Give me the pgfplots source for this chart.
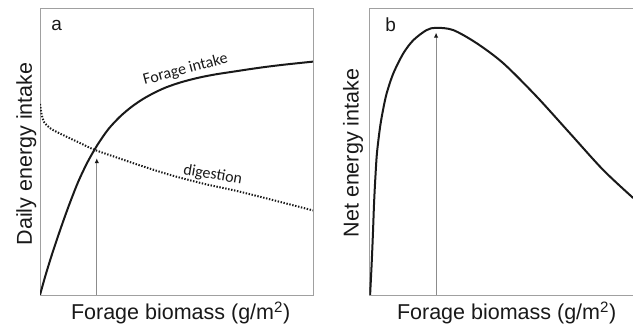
\documentclass[border=0pt]{standalone}
\usepackage{pgfplots}
\pgfplotsset{compat=1.18}
\usepackage{fontspec}
\setmainfont{Liberation Sans}
\newfontfamily\calibri{Carlito}
\usetikzlibrary{arrows.meta}
\definecolor{boxgray}{RGB}{160,160,160}
\definecolor{ink}{RGB}{25,25,25}
\definecolor{arrowgray}{RGB}{140,140,140}
\newcommand{\lbl}{\fontsize{21.5bp}{24bp}\selectfont}
\pgfplotsset{
  panel/.style={
    scale only axis, height=286.7bp,
    xmin=0, xmax=100, ymin=0, ymax=100,
    xtick=\empty, ytick=\empty,
    axis line style={boxgray, line width=1bp},
    anchor=south west,
    label style={font=\lbl, text=ink},
  },
}
\begin{document}
\begin{tikzpicture}
\useasboundingbox (0,0) rectangle (633bp,326bp);
% panel a
\begin{axis}[panel, at={(40bp,31bp)}, width=273bp,
  xlabel={Forage biomass (g/m\textsuperscript{2})},
  ylabel={Daily energy intake},
  xlabel style={at={(axis description cs:0.515,-0.087)}, anchor=base},
  ylabel style={at={(axis description cs:-0.03,0.492)}, rotate=0, anchor=base},
]
\addplot[ink, line width=2bp, smooth] coordinates {
(0,0) (2,6.8) (4.5,14.5) (7.5,23) (10.5,31) (14,39.5) (17.5,46.5) (21,52.3)
(25,57.8) (29.3,62.2) (33.5,65.6) (37.8,68.4) (42,70.6) (46.4,72.5) (52,74.3)
(58.6,75.9) (64.6,77.0) (70.8,77.9) (77,78.8) (83,79.6) (90,80.4) (100,81.4)};
\addplot[ink, line width=2bp, dash pattern=on 1.4bp off 1.6bp, smooth] coordinates {
(0,66.6) (0.6,63) (1.5,60.3) (4,58) (8,56) (14,53.3) (20.1,50.6) (28,48)
(36,45.4) (47.6,41.9) (60,38.8) (72,36.3) (85,33.2) (100,29.5)};
\addplot[arrowgray, line width=0.9bp, -{Latex[length=5bp,width=4.5bp,color=ink]}] coordinates {(20.8,0) (20.8,47.7)};
\node[font=\fontsize{19bp}{22bp}\selectfont, text=ink, anchor=base west] at (axis description cs:0.029,0.924) {a};
\node[font=\calibri\fontsize{16bp}{18bp}\selectfont, text=ink, anchor=base, rotate=15] at (axis cs:53.7,77.2) {Forage intake};
\node[font=\calibri\fontsize{16bp}{18bp}\selectfont, text=ink, anchor=base, rotate=-10] at (axis cs:63,40.4) {digestion};
\end{axis}
% panel b
\begin{axis}[panel, at={(369.3bp,31bp)}, width=264bp,
  xlabel={Forage biomass (g/m\textsuperscript{2})},
  ylabel={Net energy intake},
  xlabel style={at={(axis description cs:0.52,-0.087)}, anchor=base},
  ylabel style={at={(axis description cs:-0.04,0.495)}, rotate=0, anchor=base},
]
\addplot[ink, line width=2bp, smooth] coordinates {
(0.3,0) (0.9,11) (1.4,22) (1.8,32) (2.3,41) (2.9,49.5) (4.1,58.7) (5.3,65)
(6.6,70.4) (9.1,77.3) (12.9,84.3) (16.7,88.9) (21.7,92.4) (25.3,93.2) (31.8,92.4)
(40.7,87.8) (50.8,80.8) (63.4,69.2) (76,56.4) (88.6,43.6) (100,33.8)};
\addplot[arrowgray, line width=0.9bp, -{Latex[length=5bp,width=4.5bp,color=ink]}] coordinates {(25.3,0) (25.3,91.5)};
\node[font=\fontsize{19bp}{22bp}\selectfont, text=ink, anchor=base west] at (axis description cs:0.048,0.918) {b};
\end{axis}
\end{tikzpicture}
\end{document}
